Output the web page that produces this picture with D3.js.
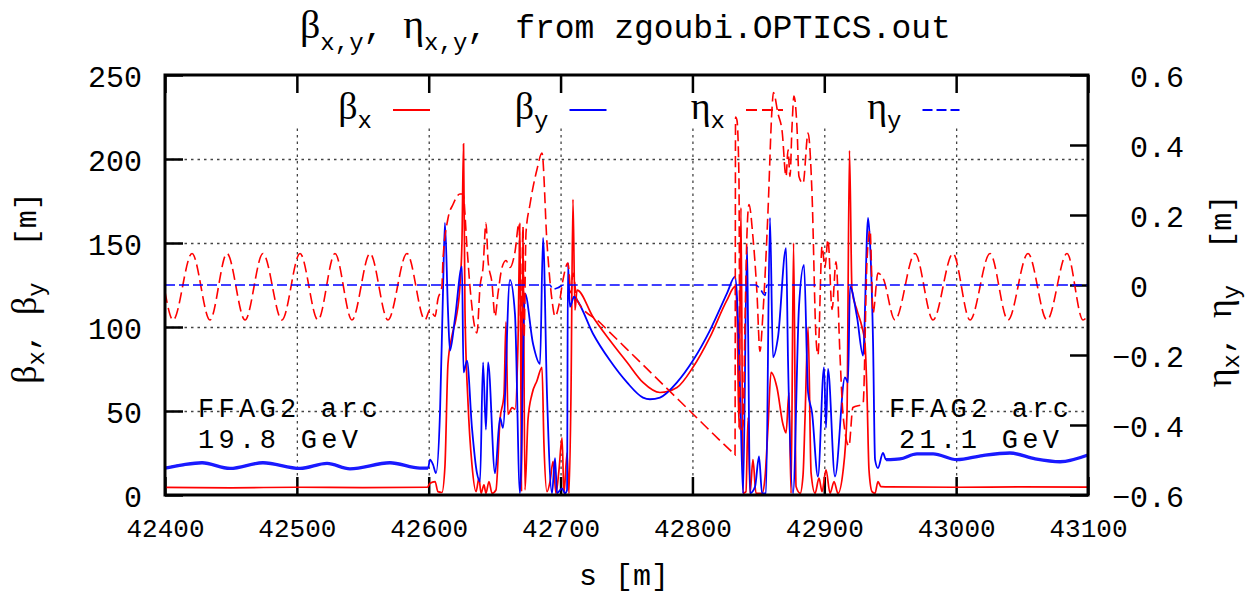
<!DOCTYPE html>
<html>
<head>
<meta charset="utf-8">
<title>zgoubi optics</title>
<script src="https://d3js.org/d3.v7.min.js"></script>
<style>
  body { margin: 0; background: #fff; }
  text { font-family: "Liberation Mono", "DejaVu Sans Mono", monospace; fill: #000; }
  .greek { font-family: "Liberation Serif", "DejaVu Serif", serif; }
  .grid line { stroke: #444; stroke-width: 1.3; stroke-dasharray: 2.5,4; }
  .grid path { display: none; }
  .axis path { display: none; }
  .axis line { stroke: #000; stroke-width: 2.5; }
</style>
</head>
<body>
<script>
// s [m] and beta [m] / eta [m]
var betaX = [
  [42400,4.5],[42450,4.3],[42500,4.6],[42550,4.4],[42599,4.6],
  [42601,7],[42604.8,8],[42607,2],[42610,1.5],[42612.3,17],[42614.6,78],[42617.7,95],[42620.7,105],
  [42623.7,125],[42625.2,150],[42626.4,209],[42627.5,110],[42629.8,55],[42632.8,18],[42635.9,2],
  [42638.1,10],[42639.7,1],[42641.9,6],[42643.4,1],[42645.7,8],[42648,1],[42651,3],[42654.1,45],
  [42657.1,60],[42658.6,103],[42660.1,48],[42663.2,52],[42665.4,51],[42667.7,90],[42669.2,162],
  [42670.4,2],[42671.5,158],[42673,3],[42675.3,45],[42678.3,60],[42682.1,68],[42685.9,76],[42687.4,30],
  [42689.7,2],[42692,8],[42694.3,20],[42696.5,1],[42698.8,15],[42701.1,34],[42702.6,1],[42704.9,25],
  [42706.4,1],[42707.9,60],[42709.4,176],[42710.9,110],
  [42712.5,122],[42724.6,106],[42737.5,92],[42750.4,79],[42762.5,67],[42775.4,61],[42788.3,64],
  [42800.4,76],[42813.3,94],[42826.2,116],[42832.3,124],
  [42833.8,110],[42835.3,40],[42836.8,171],[42838.4,1],[42840.6,2],[42842.2,46],[42843.7,1],
  [42845.9,21],[42848.2,1],[42852.8,1],[42855,10],[42857.3,40],[42859.6,73],[42864.1,64],[42868.7,42],
  [42871,37],[42873.2,61],[42874.8,1],[42876.7,150],[42878.6,5],[42881.7,1],[42883.9,12],[42885.4,46],
  [42887.7,100],[42890,13],[42893,1],[42896,10],[42898.3,2],[42901.3,15],[42904.4,1],[42907.4,8],
  [42910.4,1],[42914.2,14],[42917.2,48],[42919.1,205],[42921,122],[42924.8,110],[42928.6,100],
  [42930.9,90],[42932.4,60],[42933.9,15],[42936.2,2],[42938.5,1],[42940.7,8],[42943,5],
  [42950,4.8],[43000,4.6],[43050,4.8],[43100,4.7]
];

var betaY = [
  [42400,16],[42413.7,18],[42428.1,19.2],[42449.3,15.8],[42474.3,19.2],[42502.4,15.8],[42522.9,18.8],
  [42540.3,15.6],[42570.6,19.2],[42593.4,16],[42599.5,16],
  [42601,21],[42603.3,18],[42605.5,13],[42608.6,50],[42610.8,120],[42612.3,162],[42614.6,110],
  [42616.1,86],[42619.9,105],[42625.2,136],[42626.4,73],[42629,80],[42632.8,40],[42636.6,13],
  [42638.9,8],[42641.2,79],[42643.4,39],[42645,79],[42650.3,13],[42654.1,46],[42656.3,40],
  [42661.6,128],[42665.4,108],[42669.2,1],[42673,120],[42679.1,90],[42684.4,78],[42686.7,153],
  [42689.7,60],[42693.5,1],[42695.8,22],[42697.3,1],[42701.1,4],[42703.4,1],[42704.9,3],
  [42705.6,138],[42707.1,112],[42710.2,118],
  [42712.5,116],[42724.6,96],[42737.5,80],[42750.4,67],[42762.5,58],[42767.8,57],[42775.4,58],
  [42788.3,67],[42800.4,80],[42813.3,98],[42826.2,120],[42832.3,130],
  [42833.8,118],[42836.1,64],[42838.4,1],[42841.4,148],[42842.2,100],[42843.7,1],[42847.5,5],
  [42850.5,23],[42852.8,1],[42855.8,1],[42858.8,165],[42861.1,82],[42864.9,94],[42871,147],
  [42872.5,80],[42876.3,1],[42880.8,112],[42884.6,137],[42887.7,61],[42890.7,49],[42895.2,11],
  [42899.8,76],[42901.3,40],[42902.8,75],[42908.1,11],[42915.7,70],[42918,67],[42919.5,124],
  [42924.8,106],[42929.4,83],[42933.2,165],[42934.7,150],[42937,90],[42938.5,21],[42940.7,16],
  [42944.5,25],[42946.8,21],
  [42957.4,21.5],[42970.3,24.5],[42982.5,24.5],[43000.6,21],[43020,23.5],[43040.8,25],
  [43060,21.5],[43078.8,19.8],[43100,23.8]
];

var etaX = [
  [42400,-0.02],[42406.1,-0.10],[42420.5,0.09],[42434.1,-0.10],[42447,0.09],[42460.7,-0.10],
  [42474.3,0.09],[42488.7,-0.10],[42502.4,0.09],[42516,-0.10],[42528.9,0.09],[42541.8,-0.10],
  [42555.5,0.09],[42569.1,-0.10],[42583.5,0.09],[42597.2,-0.10],
  [42601,-0.07],[42604.8,-0.09],[42607,-0.04],[42610,-0.005],[42610.8,0.07],[42614.6,0.19],
  [42618.4,0.23],[42623.7,0.26],[42626,0.26],[42629,0.11],[42631.3,-0.005],[42636.6,-0.137],
  [42638.9,-0.005],[42641.2,0.05],[42643.4,0.177],[42645,0.07],[42648,0.005],[42650.3,-0.09],
  [42652.5,-0.025],[42655.6,0.05],[42658.6,0.07],[42661.6,0.05],[42665.4,0.094],[42668.5,0.177],
  [42670,-0.15],[42671.5,0.166],[42672.3,-0.15],[42673.8,0.15],[42676.8,0.23],[42682.1,0.33],
  [42685.9,0.377],[42689.7,0.12],[42693.5,-0.043],[42695.8,-0.09],[42698.8,-0.057],[42701.8,0.014],
  [42705.6,0.063],[42707.9,-0.023],[42709.4,0.034],
  [42712.5,-0.043],[42730,-0.108],[42760,-0.219],[42790,-0.330],[42820,-0.441],[42831,-0.481],
  [42832.3,-0.486],
  [42832.7,0.48],[42833.8,0.47],[42835.3,0.30],[42836.1,-0.42],[42838.4,-0.40],[42839.9,-0.1],
  [42841.4,0.15],[42842.9,0.23],[42845.9,0.137],[42848.9,-0.02],[42851.2,-0.19],[42853.5,-0.08],
  [42857.3,0.21],[42860.3,0.5],[42861.4,0.55],[42864.9,0.49],[42868,0.44],[42871,0.31],
  [42872.5,0.386],[42874,0.31],[42875.5,0.45],[42877,0.54],[42879.3,0.45],[42880.8,0.31],
  [42883.9,0.29],[42887.7,0.434],[42890.7,0.26],[42893.7,-0.15],[42895.2,-0.2],[42898.3,0.11],
  [42900.5,0.05],[42902.8,0.13],[42905.9,-0.07],[42908.9,0.066],[42911.9,-0.2],[42914.2,-0.37],
  [42918.7,-0.46],[42921.7,-0.35],[42929.4,-0.34],[42932.4,0.07],[42934.7,0.157],[42937,-0.08],
  [42940.7,0.034],[42944.5,0.02],
  [42953.6,-0.10],[42968.8,0.09],[42982.5,-0.10],[42997.6,0.09],[43010.5,-0.10],[43025.7,0.09],
  [43039.3,-0.10],[43054.5,0.09],[43068.9,-0.10],[43084.1,0.09],[43096.2,-0.10],[43100,-0.085]
];

var etaY = [
  [42400,0],[42692,0],[42694,-0.012],[42698,-0.008],[42702,0],
  [42848,0],[42852,-0.015],[42855,-0.03],[42856.5,0],[43100,0]
];

var xTicks = [42400, 42500, 42600, 42700, 42800, 42900, 43000, 43100];
var yTicks = [0, 50, 100, 150, 200, 250];
var y2Ticks = [-0.6, -0.4, -0.2, 0, 0.2, 0.4, 0.6];
var xGrid = [42500, 42600, 42700, 42800, 42900, 43000];
var yGrid = [50, 100, 150, 200];
var arcRanges = [[42400, 42600], [42946, 43100]];

var legendGreek = ["\u03b2", "\u03b2", "\u03b7", "\u03b7"];
var legendSub = ["x", "y", "x", "y"];
var legendColor = ["#ff0000", "#0000ff", "#ff0000", "#0000ff"];
var legendDash = ["none", "none", "11,5", "10,4"];

var margin = {top: 75, left: 165},
    width = 923,
    height = 420;

var x = d3.scaleLinear().domain([42400, 43100]).range([0, width]);
var y = d3.scaleLinear().domain([0, 250]).range([height, 0]);
var y2 = d3.scaleLinear().domain([-0.6, 0.6]).range([height, 0]);

var svg = d3.select("body").append("svg")
    .attr("width", 1254)
    .attr("height", 595);

var g = svg.append("g")
    .attr("transform", "translate(" + margin.left + "," + margin.top + ")");

// grid (vertical lines stop under the key)
g.append("g")
    .attr("class", "grid")
    .attr("transform", "translate(0," + height + ")")
    .call(d3.axisBottom(x).tickValues(xGrid).tickSize(-(height - 53)).tickFormat(""));
g.append("g")
    .attr("class", "grid")
    .call(d3.axisLeft(y).tickValues(yGrid).tickSize(-width).tickFormat(""));

// axes
g.append("g")
    .attr("class", "axis")
    .attr("transform", "translate(0," + height + ")")
    .call(d3.axisBottom(x).tickValues(xTicks).tickSizeInner(-18).tickSizeOuter(0)
          .tickPadding(24).tickFormat(d3.format("d")))
  .selectAll("text")
    .style("font-size", "26px");

g.append("g")
    .attr("class", "axis")
    .call(d3.axisTop(x).tickValues(xTicks).tickSizeInner(-18).tickSizeOuter(0).tickFormat(""));

g.append("g")
    .attr("class", "axis")
    .call(d3.axisLeft(y).tickValues(yTicks).tickSizeInner(-18).tickSizeOuter(0).tickPadding(23))
  .selectAll("text")
    .attr("dy", "0.37em")
    .style("font-size", "30px");

var fmt2 = function(d) { return d === 0 ? "0" : d3.format(".1f")(d); };
g.append("g")
    .attr("class", "axis")
    .attr("transform", "translate(" + width + ",0)")
    .call(d3.axisRight(y2).tickValues(y2Ticks).tickSizeInner(-18).tickSizeOuter(0)
          .tickPadding(42).tickFormat(fmt2))
  .selectAll("text")
    .attr("x", function(d) { return d < 0 ? 24 : 42; })
    .attr("dy", "0.37em")
    .style("font-size", "30px");

// curves
var lineL = d3.line()
    .x(function(d) { return x(d[0]); })
    .y(function(d) { return y(d[1]); })
    .curve(d3.curveMonotoneX);
var lineR = d3.line()
    .x(function(d) { return x(d[0]); })
    .y(function(d) { return y2(d[1]); })
    .curve(d3.curveMonotoneX);

g.append("path").datum(betaX)
    .attr("fill", "none").attr("stroke", "#ff0000").attr("stroke-width", 1.7)
    .attr("d", lineL);

g.append("path").datum(betaY)
    .attr("fill", "none").attr("stroke", "#0000ff").attr("stroke-width", 1.8)
    .attr("d", lineL);

// the blue arc lines are a fine ripple in the original, drawn as a thicker band
arcRanges.forEach(function(r) {
    g.append("path")
        .datum(betaY.filter(function(d) { return d[0] >= r[0] && d[0] <= r[1]; }))
        .attr("fill", "none").attr("stroke", "#1a1aff").attr("stroke-width", 3.3)
        .attr("d", lineL);
});

g.append("path").datum(etaX)
    .attr("fill", "none").attr("stroke", "#ff0000").attr("stroke-width", 1.6)
    .attr("stroke-dasharray", "11,5")
    .attr("d", lineR);

g.append("path").datum(etaY)
    .attr("fill", "none").attr("stroke", "#0000ff").attr("stroke-width", 1.6)
    .attr("stroke-dasharray", "10,4")
    .attr("d", lineR);

// border
g.append("rect")
    .attr("width", width).attr("height", height)
    .attr("fill", "none").attr("stroke", "#000").attr("stroke-width", 3);

// key
legendGreek.forEach(function(sym, i) {
    var x0 = 393 + i * 176.5 - margin.left;
    var t = g.append("text")
        .attr("x", x0 - 21)
        .attr("y", 119 - margin.top)
        .attr("text-anchor", "end");
    t.append("tspan").attr("class", "greek").style("font-size", "38px").text(sym);
    t.append("tspan").attr("dy", 9).style("font-size", "24px").text(legendSub[i]);
    g.append("line")
        .attr("x1", x0).attr("x2", x0 + 37)
        .attr("y1", 110 - margin.top).attr("y2", 110 - margin.top)
        .attr("stroke", legendColor[i]).attr("stroke-width", 1.8)
        .attr("stroke-dasharray", legendDash[i]);
});

// labels inside the plot (letter-spaced like the original Courier)
function arcLabel(xpos, anchor, line1, len1, line2, len2) {
    g.append("text")
        .attr("x", xpos - margin.left).attr("y", 417 - margin.top)
        .attr("text-anchor", anchor)
        .attr("textLength", len1).attr("lengthAdjust", "spacing")
        .style("font-size", "27px")
        .text(line1);
    g.append("text")
        .attr("x", xpos - margin.left).attr("y", 448 - margin.top)
        .attr("text-anchor", anchor)
        .attr("textLength", len2).attr("lengthAdjust", "spacing")
        .style("font-size", "27px")
        .text(line2);
}
arcLabel(198, "start", "FFAG2 arc", 180, "19.8 GeV", 160);
arcLabel(979, "middle", "FFAG2 arc", 180, "21.1 GeV", 160);

// title
var tt = svg.append("text").attr("x", 300).attr("y", 38).style("font-size", "33px");
tt.append("tspan").attr("class", "greek").style("font-size", "40px").text("\u03b2");
tt.append("tspan").attr("dy", 12).style("font-size", "24px").text("x,y");
tt.append("tspan").attr("dy", -12).text(",\u00a0");
tt.append("tspan").attr("class", "greek").style("font-size", "40px").text("\u03b7");
tt.append("tspan").attr("dy", 12).style("font-size", "24px").text("x,y");
tt.append("tspan").attr("dy", -12).text(",");
tt.append("tspan").attr("dx", 28).text("from zgoubi.OPTICS.out");

// x axis title
svg.append("text")
    .attr("x", 624).attr("y", 585)
    .attr("text-anchor", "middle")
    .style("font-size", "30px")
    .text("s [m]");

// y axis titles
function yTitle(xpos, ypos, sym) {
    var t = svg.append("text")
        .attr("transform", "translate(" + xpos + "," + ypos + ") rotate(-90)")
        .attr("text-anchor", "middle")
        .style("font-size", "30px");
    t.append("tspan").attr("class", "greek").style("font-size", "36px").text(sym);
    t.append("tspan").attr("dy", 8).style("font-size", "24px").text("x");
    t.append("tspan").attr("dy", -8).text(", ");
    t.append("tspan").attr("class", "greek").style("font-size", "36px").text(sym);
    t.append("tspan").attr("dy", 8).style("font-size", "24px").text("y");
    t.append("tspan").attr("dy", -8).text("\u00a0\u00a0[m]");
}
yTitle(36, 288, "\u03b2");
yTitle(1231, 291, "\u03b7");
</script>
</body>
</html>
